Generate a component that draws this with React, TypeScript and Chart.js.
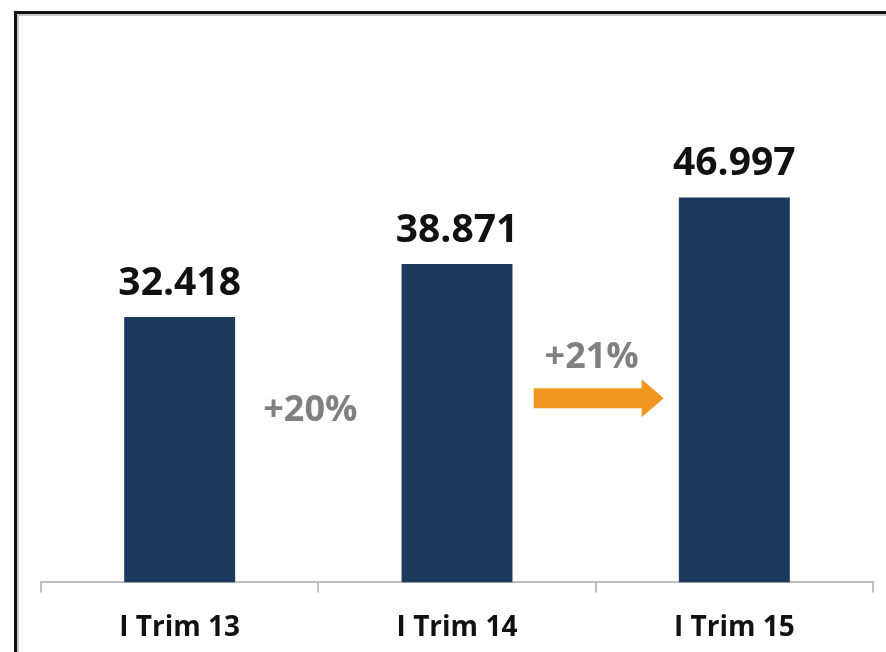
import React, { useEffect, useRef } from "react";
import { Chart, registerables } from "chart.js";

Chart.register(...registerables);

const categories = ["I Trim 13", "I Trim 14", "I Trim 15"];
const values = [32.418, 38.871, 46.997];
const valueLabels = ["32.418", "38.871", "46.997"];
const growthLabels = ["+20%", "+21%"];

const FONT = "'Open Sans', 'DejaVu Sans', sans-serif";

const overlayPlugin = {
  id: "overlay",
  beforeDraw(chart: any) {
    const ctx = chart.ctx;
    ctx.save();
    ctx.fillStyle = "#ffffff";
    ctx.fillRect(0, 0, chart.width, chart.height);
    // frame
    ctx.fillStyle = "#111111";
    ctx.fillRect(14, 11, chart.width - 14, 3);
    ctx.fillRect(14, 11, 3, chart.height - 11);
    ctx.fillStyle = "#c8c8c8";
    ctx.fillRect(17, 14, chart.width - 17, 2);
    ctx.fillRect(17, 14, 2, chart.height - 14);
    ctx.restore();
  },
  afterDatasetsDraw(chart: any) {
    const ctx = chart.ctx;
    const meta = chart.getDatasetMeta(0);
    const yScale = chart.scales.y;
    ctx.save();
    ctx.textAlign = "center";
    ctx.textBaseline = "alphabetic";
    ctx.fillStyle = "#111111";
    ctx.font = `bold 39px ${FONT}`;
    meta.data.forEach((bar: any, i: number) => {
      ctx.fillText(valueLabels[i], bar.x, bar.y - 22);
    });
    // growth labels
    ctx.fillStyle = "#808080";
    ctx.font = `bold 36px ${FONT}`;
    ctx.textBaseline = "middle";
    const b0 = meta.data[0], b1 = meta.data[1], b2 = meta.data[2];
    ctx.fillText(growthLabels[0], (b0.x + b1.x) / 2 - 8, yScale.getPixelForValue(21));
    ctx.fillText(growthLabels[1], (b1.x + b2.x) / 2 - 4, yScale.getPixelForValue(27.4));
    // arrow
    const cx = (b1.x + b2.x) / 2 + 3;
    const yc = yScale.getPixelForValue(22.5);
    const x0 = cx - 65, x1 = cx + 65, hx = cx + 43;
    ctx.fillStyle = "#f0961e";
    ctx.beginPath();
    ctx.moveTo(x0, yc - 10);
    ctx.lineTo(hx, yc - 10);
    ctx.lineTo(hx, yc - 19);
    ctx.lineTo(x1, yc);
    ctx.lineTo(hx, yc + 19);
    ctx.lineTo(hx, yc + 10);
    ctx.lineTo(x0, yc + 10);
    ctx.closePath();
    ctx.fill();
    ctx.restore();
  },
};

export default function App() {
  const ref = useRef<HTMLCanvasElement>(null);
  useEffect(() => {
    if (!ref.current) return;
    const chart = new Chart(ref.current, {
      type: "bar",
      data: {
        labels: categories,
        datasets: [
          {
            data: values,
            backgroundColor: "#1b3a5e",
            barPercentage: 0.8,
            categoryPercentage: 0.5,
          },
        ],
      },
      options: {
        animation: false,
        responsive: false,
        maintainAspectRatio: false,
        layout: { padding: { left: 41, right: 13, top: 91, bottom: -12 } },
        plugins: { legend: { display: false }, tooltip: { enabled: false } },
        scales: {
          y: { display: false, min: 0, max: 60 },
          x: {
            offset: true,
            grid: {
              display: true,
              offset: true,
              drawOnChartArea: false,
              drawTicks: true,
              tickLength: 10,
              color: "#c0c0c0",
              lineWidth: 2,
            },
            border: { display: true, color: "#c0c0c0", width: 2 },
            ticks: {
              color: "#111111",
              padding: 19,
              font: { family: FONT, size: 28, weight: "bold" },
              maxRotation: 0,
            },
          },
        },
      },
      plugins: [overlayPlugin],
    });
    return () => chart.destroy();
  }, []);
  return (
    <div style={{ position: "absolute", left: 0, top: 0, width: 886, height: 652 }}>
      <canvas ref={ref} width={886} height={652} style={{ display: "block" }} />
    </div>
  );
}
